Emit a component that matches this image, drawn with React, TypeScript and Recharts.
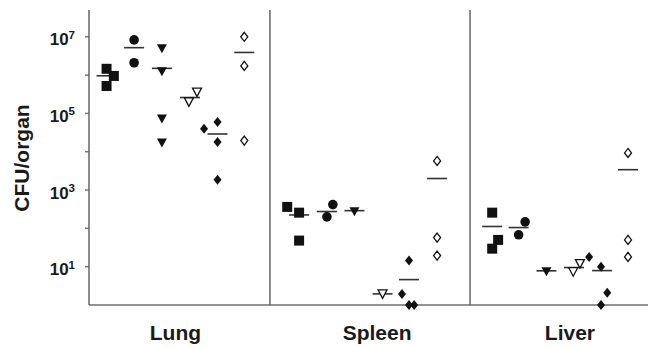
import { ScatterChart, Scatter, XAxis, YAxis, ReferenceLine } from 'recharts';

const organs = ['Lung', 'Spleen', 'Liver'];
const organLabelX = [3.2, 10.67, 17.81];
const organDividers = [6.7, 14.11];
const yTicks = [10, 100, 1000, 1e4, 1e5, 1e6, 1e7];

// group order: filled square, filled circle, filled triangle, open triangle, filled diamond, open diamond
const groupKinds = ['square', 'circle', 'triangle', 'openTriangle', 'diamond', 'openDiamond'];

const lungCentres = [0.65, 1.67, 2.7, 3.74, 4.76, 5.75];
const lungValues = [
  [1.46e6, 9.5e5, 5.2e5],
  [8.3e6, 2.1e6],
  [4.9e6, 1.23e6, 7.2e4, 1.7e4],
  [3.6e5, 2.0e5],
  [6.0e4, 4.0e4, 1.8e4, 1.86e3],
  [1.0e7, 1.74e6, 1.95e4],
];
const lungJitter = [[0, 0.27, 0], [0, 0], [0, 0, 0, 0], [0.26, -0.04], [0, -0.5, 0, 0], [0, 0, 0]];
const lungMeans = [9.6e5, 5.2e6, 1.5e6, 2.6e5, 2.9e4, 3.9e6];

const spleenCentres = [7.78, 8.81, 9.83, 10.87, 11.85, 12.89];
const spleenValues = [
  [363, 257, 48],
  [417, 200],
  [270],
  [1.95],
  [14.5, 1.95, 1, 1],
  [5750, 57.5, 19.5],
];
const spleenJitter = [[-0.44, 0, 0], [0.22, 0], [0], [0], [0, -0.26, 0, 0.19], [0, 0, 0]];
const spleenMeans = [224, 275, 290, 1.95, 4.6, 2000];

const liverCentres = [14.93, 15.91, 16.94, 17.96, 19.0, 19.96];
const liverValues = [
  [257, 50, 29.5],
  [148, 68],
  [7.4],
  [12, 7.4],
  [18, 10, 2.1, 1],
  [9300, 50, 18],
];
const liverJitter = [[0, 0.22, 0], [0.24, 0], [0], [0.22, -0.03], [-0.48, -0.04, 0.19, -0.04], [0, 0, 0]];
const liverMeans = [112, 105, 7.8, 9.5, 7.9, 3400];

const organData = [
  { centres: lungCentres, values: lungValues, jitter: lungJitter, means: lungMeans },
  { centres: spleenCentres, values: spleenValues, jitter: spleenJitter, means: spleenMeans },
  { centres: liverCentres, values: liverValues, jitter: liverJitter, means: liverMeans },
];

const pointsFor = (g: number) =>
  organData.flatMap((o) => o.values[g].map((v, i) => ({ x: o.centres[g] + o.jitter[g][i], y: v })));

const meanPoints = organData.flatMap((o) => o.means.map((m, g) => ({ x: o.centres[g], y: m })));

const AXIS = '#6e6e6e';
const INK = '#111';
const FONT = "'Liberation Sans', Arial, Helvetica, sans-serif";

function Marker({ kind, cx, cy }: { kind: string; cx: number; cy: number }) {
  if (cx == null || cy == null) return <g />;
  switch (kind) {
    case 'square':
      return <rect x={cx - 5} y={cy - 5} width={10} height={10} fill={INK} />;
    case 'circle':
      return <circle cx={cx} cy={cy} r={4.8} fill={INK} />;
    case 'triangle':
      return <polygon points={`${cx - 5},${cy - 4.5} ${cx + 5},${cy - 4.5} ${cx},${cy + 4.5}`} fill={INK} />;
    case 'openTriangle':
      return (
        <polygon
          points={`${cx - 4.5},${cy - 4} ${cx + 4.5},${cy - 4} ${cx},${cy + 4.5}`}
          fill="#fff"
          stroke={INK}
          strokeWidth={1.3}
        />
      );
    case 'diamond':
      return <polygon points={`${cx},${cy - 5} ${cx + 4},${cy} ${cx},${cy + 5} ${cx - 4},${cy}`} fill={INK} />;
    default:
      return (
        <polygon
          points={`${cx},${cy - 4.5} ${cx + 3.5},${cy} ${cx},${cy + 4.5} ${cx - 3.5},${cy}`}
          fill="#fff"
          stroke={INK}
          strokeWidth={1.3}
        />
      );
  }
}

const MeanLine = (props: any) => {
  const { cx, cy } = props;
  if (cx == null || cy == null) return <g />;
  return <line x1={cx - 10} x2={cx + 10} y1={cy} y2={cy} stroke="#333" strokeWidth={1.6} />;
};

const PowerTick = (props: any) => {
  const { x, y, payload } = props;
  const exp = Math.round(Math.log10(payload.value));
  if (exp % 2 === 0) return <g />;
  return (
    <text x={x} y={y + 8.5} textAnchor="end" fontFamily={FONT} fontWeight="bold" fill="#1a1a1a">
      <tspan fontSize={17}>10</tspan>
      <tspan fontSize={11.5} dy={-6.5}>{exp}</tspan>
    </text>
  );
};

const OrganTick = (props: any) => {
  const { x, y, payload } = props;
  const name = organs[organLabelX.indexOf(payload.value)];
  return (
    <text x={x} y={y + 35} textAnchor="middle" fontFamily={FONT} fontWeight="bold" fontSize={21} fill="#1a1a1a">
      {name}
    </text>
  );
};

export default function App() {
  return (
    <div style={{ position: 'absolute', left: 0, top: 0, width: 651, height: 347, background: '#fff' }}>
      <ScatterChart width={651} height={347} margin={{ top: 10, right: 3, bottom: 0, left: 0 }}>
        <XAxis
          type="number"
          dataKey="x"
          domain={[0, 20.7]}
          ticks={organLabelX}
          interval={0}
          tickLine={false}
          tickSize={0}
          tickMargin={0}
          tick={OrganTick}
          axisLine={{ stroke: AXIS, strokeWidth: 1.6 }}
          height={42}
        />
        <YAxis
          type="number"
          dataKey="y"
          scale="log"
          domain={[1, 5e7]}
          ticks={yTicks}
          interval={0}
          width={89}
          tickSize={4}
          tickMargin={10}
          tick={PowerTick}
          tickLine={{ stroke: AXIS, strokeWidth: 1.4 }}
          axisLine={{ stroke: AXIS, strokeWidth: 1.6 }}
          label={{
            content: () => (
              <text
                transform="rotate(-90)"
                x={-158}
                y={29}
                textAnchor="middle"
                fontFamily={FONT}
                fontWeight="bold"
                fontSize={21}
                fill="#1a1a1a"
              >
                CFU/organ
              </text>
            ),
          }}
        />
        {organDividers.map((d) => (
          <ReferenceLine key={d} x={d} stroke={AXIS} strokeWidth={1.6} />
        ))}
        <Scatter data={meanPoints} shape={MeanLine} isAnimationActive={false} />
        {groupKinds.map((kind, g) => (
          <Scatter
            key={kind}
            data={pointsFor(g)}
            isAnimationActive={false}
            shape={(p: any) => <Marker kind={kind} cx={p.cx} cy={p.cy} />}
          />
        ))}
      </ScatterChart>
    </div>
  );
}
